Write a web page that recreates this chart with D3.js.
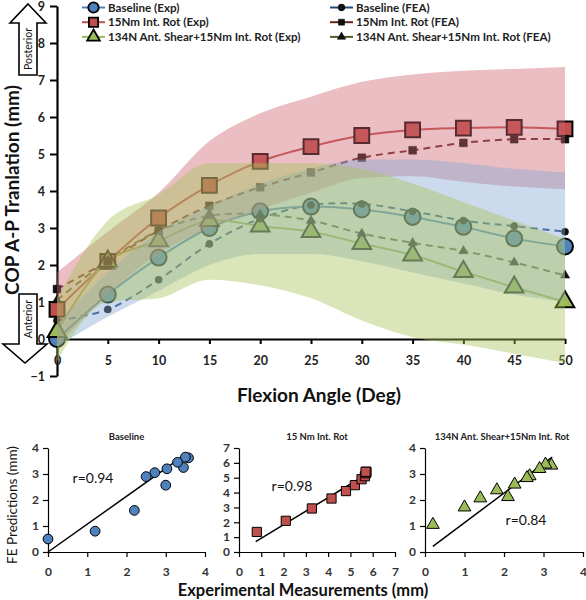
<!DOCTYPE html>
<html><head><meta charset="utf-8">
<script src="https://cdn.jsdelivr.net/npm/d3@7"></script>
<style>
body{margin:0;background:#fff;}
svg{display:block;}
text{font-family:Lato, "Open Sans", sans-serif;}
</style></head>
<body>
<svg id="c" width="586" height="600"></svg>
<script>
// ---------------- DATA ----------------
const angles = [0,5,10,15,20,25,30,35,40,45,50];
const baselineExp = [0,1.2,2.2,3.0,3.45,3.58,3.5,3.3,3.03,2.72,2.5];
const baselineFea = [0.5,0.8,1.6,2.57,3.25,3.62,3.65,3.45,3.2,3.05,2.9];
const rotExp = [0.8,2.1,3.27,4.15,4.8,5.2,5.5,5.65,5.7,5.72,5.68];
const rotFea = [1.35,2.1,2.93,3.6,4.1,4.5,4.9,5.1,5.3,5.4,5.4];
const shearExp = [0.2,2.1,2.65,3.2,3.05,2.9,2.58,2.27,1.82,1.4,1.0];
const shearFea = [1.05,2.12,2.92,3.33,3.37,3.2,2.85,2.6,2.38,2.07,1.72];
// shaded ranges (upper / lower)
const rotUpper = [1.8,2.9,3.95,5.35,6.1,6.55,6.95,7.15,7.25,7.3,7.35];
const rotLower = [-0.2,1.2,2.3,3.0,3.5,3.95,4.35,4.4,4.25,4.12,4.05];
const baseUpper = [0.4,1.8,2.9,3.6,4.2,4.6,4.85,4.85,4.75,4.6,4.5];
const baseLower = [-0.2,0.6,1.3,2.0,2.3,2.3,2.1,1.8,1.5,1.2,1.0];
const shearUpper = [1.1,3.2,3.9,4.75,4.75,4.75,4.6,4.2,3.7,3.2,2.7];
const shearLower = [-0.6,1.0,1.1,1.6,1.45,1.1,0.5,0.05,-0.15,-0.4,-0.65];
const yTicks = [-1,0,1,2,3,4,5,6,7,8,9];
const xTicks = [0,5,10,15,20,25,30,35,40,45,50];
const legendLabels = ["Baseline (Exp)","15Nm Int. Rot (Exp)","134N Ant. Shear+15Nm Int. Rot (Exp)",
                      "Baseline (FEA)","15Nm Int. Rot (FEA)","134N Ant. Shear+15Nm Int. Rot (FEA)"];
const panelTitles = ["Baseline","15 Nm Int. Rot","134N Ant. Shear+15Nm Int. Rot"];
const panelR = ["r=0.94","r=0.98","r=0.84"];
const panelMax = [4,7,4];
const fitBaseline = [[0,0],[3.55,3.8]];
const fitRot = [[0.75,0.7],[5.8,5.3]];
const fitShear = [[0.2,0.22],[3.22,3.65]];

// ---------------- STYLE ----------------
const C = {blue:"#4f81bd", red:"#c0504d", green:"#9bbb59",
           dblue:"#1f497d", dred:"#632523", dgreen:"#4f6228"};
const svg = d3.select("#c");
const x = d3.scaleLinear().domain([0,50]).range([57,565]);
const y = d3.scaleLinear().domain([-1,9]).range([376,6]);

// axes (drawn beneath the shaded bands)
const gy = svg.append("g").attr("transform","translate(57,0)")
  .call(d3.axisLeft(y).tickValues(yTicks).tickSize(7).tickSizeOuter(0).tickPadding(5));
gy.select(".domain").attr("stroke","#000").attr("stroke-width",2.2);
gy.selectAll(".tick line").attr("stroke","#000").attr("stroke-width",2);
gy.selectAll(".tick text").attr("font-size",12.5).attr("font-weight","bold").attr("font-family","Lato").attr("fill","#222");

const gx = svg.append("g").attr("transform",`translate(0,${y(0)})`)
  .call(d3.axisBottom(x).tickValues(xTicks).tickSize(5).tickSizeOuter(0).tickPadding(12));
gx.select(".domain").attr("stroke","#000").attr("stroke-width",2.2);
gx.selectAll(".tick line").attr("stroke","#000").attr("stroke-width",2);
gx.selectAll(".tick text").attr("font-size",12.5).attr("font-weight","bold").attr("font-family","Lato").attr("fill","#222");

const curve = d3.curveCatmullRom.alpha(0.5);
const line = d3.line().x((d,i)=>x(angles[i])).y(d=>y(d)).curve(curve);

const series = [
  {exp:baselineExp, fea:baselineFea, col:C.blue, dcol:C.dblue, shape:"circle"},
  {exp:rotExp, fea:rotFea, col:C.red, dcol:C.dred, shape:"square"},
  {exp:shearExp, fea:shearFea, col:C.green, dcol:C.dgreen, shape:"triangle"}
];
const symType = {circle:d3.symbolCircle, square:d3.symbolSquare, triangle:d3.symbolTriangle};
const bigSize = {circle:200, square:220, triangle:150};
const smallSize = {circle:40, square:60, triangle:38};

const plot = svg.append("g");
series.forEach(s=>{
  plot.append("path").attr("d",line(s.fea)).attr("fill","none").attr("stroke",s.dcol)
    .attr("stroke-width",2).attr("stroke-dasharray","7,5");
});
series.forEach(s=>{
  plot.append("path").attr("d",line(s.exp)).attr("fill","none").attr("stroke",s.col).attr("stroke-width",2);
});
series.forEach(s=>{
  plot.selectAll(null).data(s.exp).enter().append("path")
    .attr("transform",(d,i)=>`translate(${x(angles[i])},${y(d)})`)
    .attr("d",d3.symbol().type(symType[s.shape]).size(bigSize[s.shape]))
    .attr("fill",s.col).attr("stroke","#000").attr("stroke-width",2);
});
series.forEach(s=>{
  plot.selectAll(null).data(s.fea).enter().append("path")
    .attr("transform",(d,i)=>`translate(${x(angles[i])},${y(d)})`)
    .attr("d",d3.symbol().type(symType[s.shape]).size(smallSize[s.shape]))
    .attr("fill","#111").attr("stroke","#000").attr("stroke-width",0.5);
});

// shaded ranges on top
const area = d3.area().x((d,i)=>x(angles[i])).y0(d=>y(d[0])).y1(d=>y(d[1])).curve(d3.curveMonotoneX);
const bands = [
  {lo:rotLower, hi:rotUpper, fill:"#ce636f"},
  {lo:baseLower, hi:baseUpper, fill:"#85a6d3"},
  {lo:shearLower, hi:shearUpper, fill:"#a6c358"}
];
bands.forEach(b=>{
  svg.append("path").attr("d",area(b.lo.map((v,i)=>[v,b.hi[i]])))
    .attr("fill",b.fill).attr("fill-opacity",0.42);
});

// legend
const lg = svg.append("g");
legendLabels.forEach((lab,i)=>{
  const col = i<3?0:1, row=i%3;
  const s = series[row];
  const lx = col===0?82:330, ly = 7.5+row*14.7;
  lg.append("line").attr("x1",lx).attr("x2",lx+23).attr("y1",ly).attr("y2",ly)
    .attr("stroke",col===0?s.col:s.dcol).attr("stroke-width",2);
  lg.append("path").attr("transform",`translate(${lx+11.5},${ly})`)
    .attr("d",d3.symbol().type(symType[s.shape]).size(col===0?(s.shape==="triangle"?70:85):(s.shape==="triangle"?30:36)))
    .attr("fill",col===0?s.col:"#111").attr("stroke","#000").attr("stroke-width",col===0?1.8:0.5);
  lg.append("text").attr("x",lx+26).attr("y",ly).attr("dy","0.36em")
    .attr("font-size",11.6).attr("font-weight","bold").attr("fill","#222").text(lab);
});

// axis titles
svg.append("text").attr("transform","translate(19,190) rotate(-90)").attr("text-anchor","middle")
  .attr("font-size",19).attr("font-weight","bold").attr("fill","#111").text("COP A-P Tranlation (mm)");
svg.append("text").attr("x",319).attr("y",402).attr("text-anchor","middle")
  .attr("font-size",19).attr("font-weight","bold").attr("fill","#111").text("Flexion Angle (Deg)");

// direction arrows
const arrowUp = [[28,4],[46,23],[37,23],[37,75],[19,75],[19,23],[10,23]];
const arrowDown = [[19,294],[37,294],[37,344],[47,344],[25,363],[3,344],[19,344]];
[arrowUp,arrowDown].forEach(p=>{
  svg.append("path").attr("d",d3.line()(p)+"Z").attr("fill","#fff").attr("stroke","#000").attr("stroke-width",1.6);
});
svg.append("text").attr("transform","translate(28,49) rotate(-90)").attr("text-anchor","middle").attr("dy","0.35em")
  .attr("font-size",10.5).attr("fill","#111").text("Posterior");
svg.append("text").attr("transform","translate(28,319) rotate(-90)").attr("text-anchor","middle").attr("dy","0.35em")
  .attr("font-size",10.5).attr("fill","#111").text("Anterior");

// ---------------- correlation panels ----------------
const panels = [
  {x0:48, x1:205, exp:baselineExp, fea:baselineFea, col:C.blue, shape:"circle", fit:fitBaseline},
  {x0:239, x1:395, exp:rotExp, fea:rotFea, col:C.red, shape:"square", fit:fitRot},
  {x0:425, x1:583, exp:shearExp, fea:shearFea, col:C.green, shape:"triangle", fit:fitShear}
];
const rPos = [[93,478],[292,486],[526,520]];
const pSize = {circle:75, square:85, triangle:70};
panels.forEach((p,k)=>{
  const m = panelMax[k];
  const px = d3.scaleLinear().domain([0,m]).range([p.x0,p.x1]);
  const py = d3.scaleLinear().domain([0,m]).range([552,448]);
  const g = svg.append("g");
  const ay = g.append("g").attr("transform",`translate(${p.x0},0)`)
    .call(d3.axisLeft(py).ticks(m).tickSize(5).tickSizeOuter(0).tickPadding(4));
  const ax = g.append("g").attr("transform",`translate(0,552)`)
    .call(d3.axisBottom(px).ticks(m).tickSize(5).tickSizeOuter(0).tickPadding(10));
  [ay,ax].forEach(a=>{
    a.select(".domain").attr("stroke","#000").attr("stroke-width",1.2);
    a.selectAll(".tick line").attr("stroke","#000").attr("stroke-width",1.2);
    a.selectAll(".tick text").attr("font-size",12).attr("font-family","Lato").attr("font-weight","bold").attr("fill","#333");
  });
  g.append("path").attr("d",d3.line().x(d=>px(d[0])).y(d=>py(d[1]))(p.fit))
    .attr("stroke","#000").attr("stroke-width",1.5).attr("fill","none");
  g.selectAll(null).data(p.exp).enter().append("path")
    .attr("transform",(d,i)=>`translate(${px(d)},${py(p.fea[i])})`)
    .attr("d",d3.symbol().type(symType[p.shape]).size(pSize[p.shape]))
    .attr("fill",p.col).attr("stroke","#000").attr("stroke-width",1);
  g.append("text").attr("x",(p.x0+p.x1)/2+(k===2?-2:0)).attr("y",437).attr("dy","0.35em").attr("text-anchor","middle")
    .attr("font-size",9.5).attr("font-weight","bold").attr("fill","#222").text(panelTitles[k]);
  g.append("text").attr("x",rPos[k][0]).attr("y",rPos[k][1]).attr("dy","0.35em").attr("text-anchor","middle")
    .attr("font-family","Liberation Sans, Arial, sans-serif").attr("font-size",14).attr("fill","#111").text(panelR[k]);
});
svg.append("text").attr("x",303).attr("y",596).attr("text-anchor","middle")
  .attr("font-family","Liberation Sans, Arial, sans-serif").attr("font-size",16.5).attr("font-weight","bold")
  .attr("fill","#111").text("Experimental Measurements (mm)");
svg.append("text").attr("transform","translate(17,505) rotate(-90)").attr("text-anchor","middle")
  .attr("font-family","Liberation Sans, Arial, sans-serif").attr("font-size",13.5)
  .attr("fill","#111").text("FE Predictions (mm)");
</script>
</body></html>
